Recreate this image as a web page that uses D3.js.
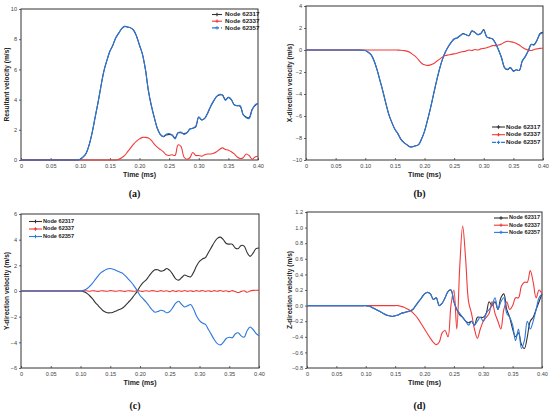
<!DOCTYPE html>
<html>
<head>
<meta charset="utf-8">
<script src="https://cdn.jsdelivr.net/npm/d3@7"></script>
<style>
  body { margin: 0; background: #fff; }
  svg text { font-family: "Liberation Sans", Arial, sans-serif; }
</style>
</head>
<body>
<svg id="chart" width="550" height="411"></svg>
<script>
// sample times (ms)
var times = [0, 0.005, 0.01, 0.015, 0.02, 0.025, 0.03, 0.035, 0.04, 0.045,
  0.05, 0.055, 0.06, 0.065, 0.07, 0.075, 0.08, 0.085, 0.09, 0.095,
  0.10, 0.105, 0.11, 0.115, 0.12, 0.125, 0.13, 0.135, 0.14, 0.145,
  0.15, 0.155, 0.16, 0.165, 0.17, 0.175, 0.18, 0.185, 0.19, 0.195,
  0.20, 0.205, 0.21, 0.215, 0.22, 0.225, 0.23, 0.235, 0.24, 0.245,
  0.25, 0.255, 0.26, 0.265, 0.27, 0.275, 0.28, 0.285, 0.29, 0.295,
  0.30, 0.305, 0.31, 0.315, 0.32, 0.325, 0.33, 0.335, 0.34, 0.345,
  0.35, 0.355, 0.36, 0.365, 0.37, 0.375, 0.38, 0.385, 0.39, 0.395, 0.40];

var nodes = ["Node 62317", "Node 62337", "Node 62357"];
var nodeColors = ["#333333", "#f03a3a", "#2a78e0"];
var xTicks = [0, 0.05, 0.10, 0.15, 0.20, 0.25, 0.30, 0.35, 0.40];

// (a) resultant velocity
var res62317 = [0,0,0,0,0,0,0,0,0,0, 0,0,0,0,0,0,0,0,0,0,
  0.05, 0.2, 0.45, 1.0, 1.8, 2.8, 3.8, 4.9, 5.9, 6.6,
  7.2, 7.6, 8.1, 8.4, 8.7, 8.85, 8.8, 8.75, 8.6, 8.2,
  7.6, 7.0, 6.0, 4.6, 3.6, 2.8, 2.1, 1.7, 1.55, 1.65,
  1.7, 1.65, 1.45, 1.8, 1.8, 1.75, 1.8, 2.05, 2.1, 2.2,
  2.85, 2.65, 2.75, 3.1, 3.55, 3.9, 4.2, 4.3, 4.3, 4.0,
  4.15, 4.0, 3.65, 3.6, 3.55, 3.0, 2.85, 2.8, 3.35, 3.6, 3.75];
var res62337 = [0,0,0,0,0,0,0,0,0,0, 0,0,0,0,0,0,0,0,0,0,
  0,0,0,0,0,0,0,0,0,0, 0,0,0,
  0.05, 0.15, 0.3, 0.55, 0.8, 1.05, 1.25,
  1.4, 1.5, 1.5, 1.45, 1.3, 1.05, 0.85, 0.7, 0.55, 0.35,
  0.3, 0.35, 0.3, 1.0, 0.9, 0.2, 0.05, 0.15, 0.5, 0.3,
  0.3, 0.25, 0.35, 0.4, 0.4, 0.45, 0.55, 0.7, 0.8, 0.7,
  0.65, 0.55, 0.4, 0.2, 0.1, 0.15, 0.4, 0.3, 0.05, 0.2, 0.25];
var res62357 = [0,0,0,0,0,0,0,0,0,0, 0,0,0,0,0,0,0,0,0,0,
  0.05, 0.2, 0.45, 1.0, 1.8, 2.8, 3.8, 4.9, 5.9, 6.6,
  7.2, 7.6, 8.1, 8.4, 8.7, 8.85, 8.8, 8.75, 8.6, 8.2,
  7.6, 7.0, 6.0, 4.6, 3.6, 2.8, 2.1, 1.7, 1.55, 1.7,
  1.75, 1.65, 1.4, 1.8, 1.85, 1.7, 1.8, 2.05, 2.1, 2.25,
  2.85, 2.65, 2.75, 3.1, 3.55, 3.9, 4.2, 4.35, 4.3, 3.95,
  4.15, 4.0, 3.65, 3.6, 3.6, 3.0, 2.8, 2.75, 3.3, 3.65, 3.75];

// (b) X-direction velocity
var x62317 = [0,0,0,0,0,0,0,0,0,0, 0,0,0,0,0,0,0,0,0,-0.02,
  -0.05, -0.2, -0.45, -1.0, -1.8, -2.8, -3.8, -4.9, -5.9, -6.6,
  -7.2, -7.6, -8.1, -8.4, -8.6, -8.8, -8.8, -8.7, -8.6, -8.1,
  -7.4, -6.4, -5.3, -4.1, -2.9, -1.8, -0.9, -0.2, 0.3, 0.7,
  1.0, 1.1, 1.3, 1.5, 1.4, 1.3, 1.75, 1.6, 1.4, 1.5,
  1.85, 1.2, 1.1, 1.0, 0.6, 0.0, -0.7, -1.6, -1.8, -1.6,
  -1.9, -1.8, -1.85, -1.0, -0.6, -0.1, 0.5, 0.5, 0.9, 1.5, 1.6];
var x62337 = [0,0,0,0,0,0,0,0,0,0, 0,0,0,0,0,0,0,0,0,0,
  0,0,0,0,0,0,0,0,0,0, 0,
  -0.01, -0.02, -0.05, -0.1, -0.2, -0.4, -0.6, -0.9, -1.2,
  -1.35, -1.4, -1.35, -1.25, -1.05, -0.85, -0.65, -0.5, -0.45, -0.4,
  -0.35, -0.3, -0.2, -0.15, -0.1, 0.0, -0.05, 0.05, 0.0, 0.1,
  0.15, 0.2, 0.3, 0.4, 0.4, 0.45, 0.55, 0.7, 0.8, 0.75,
  0.7, 0.6, 0.45, 0.25, 0.1, 0.0, -0.05, 0.05, 0.1, 0.15, 0.15];
var x62357 = [0,0,0,0,0,0,0,0,0,0, 0,0,0,0,0,0,0,0,0,-0.02,
  -0.05, -0.2, -0.45, -1.0, -1.8, -2.8, -3.8, -4.9, -5.9, -6.6,
  -7.2, -7.6, -8.1, -8.4, -8.6, -8.8, -8.8, -8.7, -8.6, -8.1,
  -7.4, -6.4, -5.3, -4.1, -2.9, -1.8, -0.9, -0.2, 0.3, 0.7,
  1.0, 1.1, 1.3, 1.45, 1.4, 1.3, 1.7, 1.6, 1.4, 1.5,
  1.8, 1.2, 1.1, 1.0, 0.6, 0.0, -0.7, -1.6, -1.75, -1.6,
  -1.95, -1.8, -1.85, -1.0, -0.6, -0.1, 0.5, 0.45, 0.9, 1.45, 1.55];

// (c) Y-direction velocity
var y62317 = [0,0,0,0,0,0,0,0,0,0, 0,0,0,0,0,0,0,0,0,0, 0,
  -0.05, -0.15, -0.35, -0.6, -0.9, -1.15, -1.4, -1.6, -1.7,
  -1.7, -1.65, -1.55, -1.45, -1.35, -1.15, -0.9, -0.65, -0.35, -0.05,
  0.35, 0.65, 0.85, 1.15, 1.45, 1.65, 1.65, 1.55, 1.6, 1.75,
  1.6, 1.3, 0.95, 0.85, 1.05, 1.25, 1.15, 1.1, 1.45, 1.95,
  2.3, 2.5, 2.6, 3.0, 3.4, 3.8, 4.1, 4.2, 4.0, 3.7,
  3.65, 3.65, 3.35, 3.3, 3.55, 3.5, 3.0, 2.7, 2.95, 3.3, 3.35];
var y62337 = [0,0,0,0,0,0,0,0,0,0, 0,0,0,0,0,0,0,0,0,0, 0,
  0.0, 0.02, -0.02, 0.02, 0.0, -0.03, 0.02, 0.0, -0.02,
  0.03, 0.0, -0.02, 0.02, 0.0, -0.03, 0.02, 0.0, -0.02, 0.02,
  0.0, -0.03, 0.02, -0.02, 0.03, 0.0, -0.04, 0.03, -0.02, 0.02,
  -0.05, 0.03, -0.04, 0.02, -0.03, 0.04, -0.03, 0.02, -0.04, 0.03,
  -0.02, 0.04, -0.03, 0.02, -0.04, 0.03, -0.02, 0.04, -0.03, 0.02,
  -0.05, 0.03, -0.04, -0.12, -0.03, 0.02, -0.1, 0.0, 0.05, 0.06, 0.05];
var y62357 = [0,0,0,0,0,0,0,0,0,0, 0,0,0,0,0,0,0,0,0,0, 0,
  0.05, 0.15, 0.35, 0.6, 0.9, 1.2, 1.45, 1.6, 1.72,
  1.75, 1.7, 1.6, 1.5, 1.4, 1.2, 0.95, 0.7, 0.4, 0.05,
  -0.35, -0.6, -0.85, -1.15, -1.45, -1.65, -1.6, -1.5, -1.55, -1.7,
  -1.6, -1.3, -0.95, -0.8, -1.05, -1.25, -1.15, -1.05, -1.4, -1.95,
  -2.3, -2.5, -2.6, -3.0, -3.4, -3.8, -4.1, -4.2, -4.0, -3.7,
  -3.6, -3.65, -3.35, -3.25, -3.5, -3.6, -3.1, -2.8, -3.0, -3.3, -3.5];

// (d) Z-direction velocity
var z62317 = [0,0,0,0,0,0,0,0,0,0, 0,0,0,0,0,0,0,0,0,0, 0,
  -0.005, -0.02, -0.04, -0.06, -0.08, -0.1, -0.12, -0.13, -0.14,
  -0.13, -0.12, -0.1, -0.09, -0.08, -0.07, -0.05, 0.0, 0.05, 0.1,
  0.15, 0.17, 0.15, 0.08, 0.1, 0.0, 0.03, 0.1, 0.18, 0.2,
  0.05, -0.05, -0.12, -0.15, -0.2, -0.22, -0.2, -0.25, -0.15, -0.15,
  -0.15, -0.1, 0.05, 0.0, 0.05, -0.05, 0.1, 0.15, -0.05, -0.15,
  -0.3, -0.4, -0.35, -0.5, -0.55, -0.4, -0.2, -0.15, -0.05, 0.05, 0.15];
var z62337 = [0,0,0,0,0,0,0,0,0,0, 0,0,0,0,0,0,0,0,0,0,
  0,0,0,0,0,0,0,0,0,0, 0,
  0.0, -0.01, -0.02, -0.04, -0.06, -0.09, -0.13, -0.18, -0.24,
  -0.3, -0.36, -0.42, -0.47, -0.5, -0.47, -0.35, -0.32, -0.4, 0.0,
  0.2, -0.3, 0.5, 1.02, 0.6, 0.05, -0.1, -0.3, -0.42, -0.3,
  -0.2, -0.15, -0.1, 0.05, -0.1, -0.2, -0.3, -0.05, 0.05, -0.05,
  0.0, 0.1, 0.1, 0.25, 0.3, 0.3, 0.45, 0.3, 0.1, 0.2, 0.15];
var z62357 = [0,0,0,0,0,0,0,0,0,0, 0,0,0,0,0,0,0,0,0,0, 0,
  -0.005, -0.02, -0.04, -0.06, -0.08, -0.1, -0.12, -0.13, -0.14,
  -0.13, -0.12, -0.1, -0.09, -0.08, -0.07, -0.05, 0.0, 0.05, 0.1,
  0.15, 0.17, 0.15, 0.08, 0.1, 0.0, 0.03, 0.1, 0.18, 0.2,
  0.05, -0.05, -0.1, -0.15, -0.2, -0.25, -0.2, -0.25, -0.2, -0.15,
  -0.2, -0.1, -0.05, 0.0, 0.1, -0.05, 0.05, 0.1, -0.1, -0.15,
  -0.25, -0.45, -0.3, -0.55, -0.45, -0.2, -0.3, -0.2, -0.05, 0.1, 0.15];

var panels = [
  { label: "(a)", title: "Resultant velocity (m/s)", series: [res62317, res62337, res62357],
    yDomain: [0, 10], yTicks: [0, 2, 4, 6, 8, 10], yFmt: d3.format("d"),
    x0: 21, x1: 258, y0: 9, y1: 160, yTitleX: 7, labelY: 197,
    legend: { x: 212, y: 14.5, dy: 6.7, len: 10, dashedBlue: true, size: 6.2, gap: 3 } },
  { label: "(b)", title: "X-direction velocity (m/s)", series: [x62317, x62337, x62357],
    yDomain: [-10, 4], yTicks: [-10, -8, -6, -4, -2, 0, 2, 4], yFmt: d3.format("d"),
    x0: 306, x1: 543, y0: 6, y1: 160, yTitleX: 290, labelY: 197,
    legend: { x: 492, y: 127, dy: 7.7, len: 13, dashedBlue: true, size: 6.2, gap: 1 } },
  { label: "(c)", title: "Y-direction velocity (m/s)", series: [y62317, y62337, y62357],
    yDomain: [-6, 6], yTicks: [-6, -4, -2, 0, 2, 4, 6], yFmt: d3.format("d"),
    x0: 21, x1: 259, y0: 214, y1: 368, yTitleX: 7, labelY: 409,
    legend: { x: 29, y: 221.5, dy: 7.5, len: 13, dashedBlue: false, size: 5.6, gap: 1 } },
  { label: "(d)", title: "Z-direction velocity (m/s)", series: [z62317, z62337, z62357],
    yDomain: [-0.8, 1.2], yTicks: [-0.8, -0.6, -0.4, -0.2, 0, 0.2, 0.4, 0.6, 0.8, 1.0, 1.2], yFmt: d3.format(".1f"),
    x0: 307, x1: 542, y0: 212, y1: 368, yTitleX: 290, labelY: 409,
    legend: { x: 494, y: 218, dy: 7.2, len: 14, dashedBlue: false, size: 5.6, gap: 1 } }
];

var svg = d3.select("#chart");
var xFmt = (d) => d === 0 ? "0" : d3.format(".2f")(d);

panels.forEach(function(p) {
  var x = d3.scaleLinear().domain([0, 0.4]).range([p.x0, p.x1]);
  var y = d3.scaleLinear().domain(p.yDomain).range([p.y1, p.y0]);
  var g = svg.append("g");

  // axes
  var xa = g.append("g")
    .attr("transform", "translate(0," + p.y1 + ")")
    .call(d3.axisBottom(x).tickValues(xTicks).tickFormat(xFmt).tickSizeInner(-2).tickSizeOuter(0).tickPadding(4));
  var ya = g.append("g")
    .attr("transform", "translate(" + p.x0 + ",0)")
    .call(d3.axisLeft(y).tickValues(p.yTicks).tickFormat(p.yFmt).tickSizeInner(2).tickSizeOuter(0).tickPadding(2));
  [xa, ya].forEach(function(a) {
    a.select(".domain").remove();
    a.selectAll("line").attr("stroke", "#444").attr("stroke-width", 0.8);
    a.selectAll("text").attr("font-size", 5.6).attr("fill", "#444");
  });

  // frame
  g.append("rect")
    .attr("x", p.x0).attr("y", p.y0)
    .attr("width", p.x1 - p.x0).attr("height", p.y1 - p.y0)
    .attr("fill", "none").attr("stroke", "#333").attr("stroke-width", 1);

  // curves
  var line = d3.line()
    .x((d, i) => x(times[i]))
    .y((d) => y(d))
    .curve(d3.curveCatmullRom);
  p.series.forEach(function(s, k) {
    g.append("path")
      .datum(s)
      .attr("d", line)
      .attr("fill", "none")
      .attr("stroke", nodeColors[k])
      .attr("stroke-width", 1.1);
  });

  // titles
  g.append("text")
    .attr("x", (p.x0 + p.x1) / 2).attr("y", p.y1 + 17)
    .attr("text-anchor", "middle").attr("font-size", 7).attr("font-weight", "bold")
    .attr("fill", "#222").text("Time (ms)");
  g.append("text")
    .attr("transform", "translate(" + p.yTitleX + "," + ((p.y0 + p.y1) / 2) + ") rotate(-90)")
    .attr("text-anchor", "middle").attr("dominant-baseline", "middle")
    .attr("font-size", 6.6).attr("font-weight", "bold")
    .attr("fill", "#222").text(p.title);
  g.append("text")
    .attr("x", (p.x0 + p.x1) / 2 - 5).attr("y", p.labelY)
    .attr("text-anchor", "middle").attr("font-size", 10).attr("font-weight", "bold")
    .style("font-family", "'Liberation Serif', 'Times New Roman', serif")
    .attr("fill", "#111").text(p.label);

  // legend
  var lg = g.append("g");
  nodes.forEach(function(n, k) {
    var ly = p.legend.y + k * p.legend.dy;
    lg.append("line")
      .attr("x1", p.legend.x).attr("x2", p.legend.x + p.legend.len)
      .attr("y1", ly).attr("y2", ly)
      .attr("stroke", nodeColors[k]).attr("stroke-width", 1.1)
      .attr("stroke-dasharray", (k === 2 && p.legend.dashedBlue) ? "4,2,1,2" : null);
    lg.append("path")
      .attr("d", d3.symbol(d3.symbolCross, 6)())
      .attr("transform", "translate(" + (p.legend.x + p.legend.len / 2) + "," + ly + ")")
      .attr("fill", nodeColors[k]);
    lg.append("text")
      .attr("x", p.legend.x + p.legend.len + p.legend.gap).attr("y", ly)
      .attr("dominant-baseline", "middle")
      .attr("font-size", p.legend.size).attr("font-weight", "bold").attr("fill", "#222")
      .text(n);
  });
});
</script>
</body>
</html>
